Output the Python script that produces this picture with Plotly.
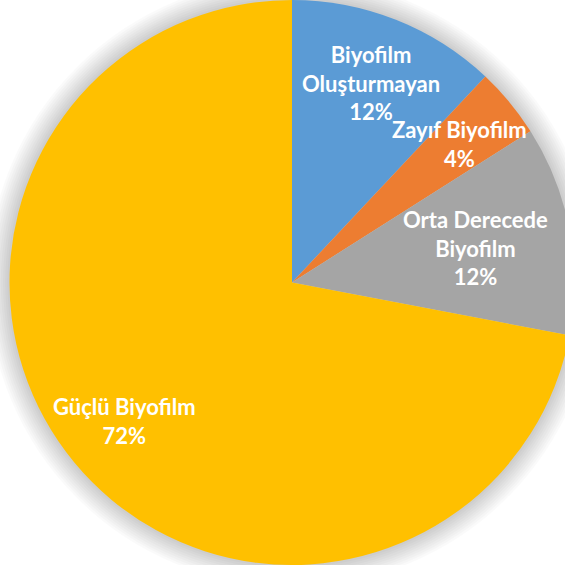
import math
import plotly.graph_objects as go

# Biofilm formation categories and their shares (%)
categories = ["Biyofilm<br>Oluşturmayan", "Zayıf Biyofilm", "Orta Derecede<br>Biyofilm", "Güçlü Biyofilm"]
values = [12, 4, 12, 72]
colors = ["#5B9BD5", "#ED7D31", "#A5A5A5", "#FFC000"]
# radial placement of each label as a fraction of the radius
label_radius = [0.76, 0.77, 0.66, 0.77]

W, H = 576, 565
dom_x = [8 / W, 1.0]
cx = (dom_x[0] + (dom_x[1] - dom_x[0]) / 2) * W
cy = H / 2
r = min((dom_x[1] - dom_x[0]) * W, H) / 2

fig = go.Figure(go.Pie(
    labels=categories,
    values=values,
    sort=False,
    direction="clockwise",
    rotation=0,
    marker=dict(colors=colors, line=dict(width=0)),
    textinfo="none",
    hoverinfo="label+percent",
    showlegend=False,
    domain=dict(x=dom_x, y=[0, 1]),
))

# soft shadow around the pie
shapes = []
for k in range(1, 11):
    rr = r + 2.2 * k
    shapes.append(dict(
        type="circle", xref="paper", yref="paper", layer="below",
        x0=(cx - rr) / W, x1=(cx + rr) / W,
        y0=1 - (cy + rr) / H, y1=1 - (cy - rr) / H,
        fillcolor="rgba(0,0,0,0.02)", line=dict(width=0),
    ))

# data labels at slice midpoints
total = sum(values)
annotations = []
cum = 0
for lab, v, f in zip(categories, values, label_radius):
    mid = (cum + v / 2) / total * 2 * math.pi
    cum += v
    px = cx + f * r * math.sin(mid)
    py = cy - f * r * math.cos(mid)
    pct = round(v / total * 100)
    annotations.append(dict(
        x=px / W, y=1 - py / H, xref="paper", yref="paper",
        xanchor="center", yanchor="middle",
        text=f"{lab}<br>{pct}%", showarrow=False, align="center",
        font=dict(family="Lato", size=22, color="white", weight="bold"),
    ))

fig.update_layout(
    width=W, height=H, autosize=False,
    margin=dict(l=0, r=0, t=0, b=0),
    paper_bgcolor="white", plot_bgcolor="white",
    shapes=shapes, annotations=annotations,
)

fig.write_html(
    "out.html",
    post_script="document.documentElement.style.overflow='hidden';document.body.style.overflow='hidden';document.body.style.margin='0';",
)
